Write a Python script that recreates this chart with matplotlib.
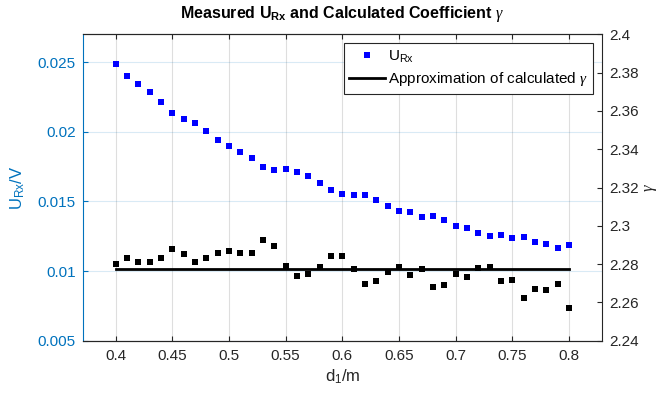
#!/usr/bin/env python

import numpy as np
import matplotlib.pyplot as plt
from matplotlib.ticker import FuncFormatter

plt.rcParams['font.family'] = ['Liberation Sans', 'DejaVu Sans']
plt.rcParams['mathtext.fontset'] = 'custom'
plt.rcParams['mathtext.rm'] = 'Liberation Sans'
plt.rcParams['mathtext.bf'] = 'Liberation Sans:bold'
plt.rcParams['mathtext.it'] = 'Liberation Serif:italic'

# distance d1 in m
d1 = [0.40, 0.41, 0.42, 0.43, 0.44, 0.45, 0.46, 0.47, 0.48, 0.49,
      0.50, 0.51, 0.52, 0.53, 0.54, 0.55, 0.56, 0.57, 0.58, 0.59,
      0.60, 0.61, 0.62, 0.63, 0.64, 0.65, 0.66, 0.67, 0.68, 0.69,
      0.70, 0.71, 0.72, 0.73, 0.74, 0.75, 0.76, 0.77, 0.78, 0.79, 0.80]

# measured U_Rx in V
u_rx = [0.02489, 0.02401, 0.02345, 0.02283, 0.02216, 0.02135, 0.02094, 0.02061,
        0.02006, 0.01943, 0.01896, 0.01855, 0.01814, 0.01747, 0.01728, 0.01733,
        0.01713, 0.01680, 0.01630, 0.01582, 0.01551, 0.01544, 0.01544, 0.01508,
        0.01469, 0.01429, 0.01422, 0.01386, 0.01395, 0.01367, 0.01326, 0.01311,
        0.01271, 0.01250, 0.01257, 0.01235, 0.01242, 0.01209, 0.01196, 0.01168,
        0.01189]

# calculated coefficient gamma
gamma = [2.2802, 2.2832, 2.2813, 2.2813, 2.2832, 2.2877, 2.2853, 2.2813,
         2.2832, 2.2858, 2.2867, 2.2858, 2.2858, 2.2926, 2.2893, 2.2789,
         2.2738, 2.2748, 2.2783, 2.2842, 2.2842, 2.2773, 2.2695, 2.2710,
         2.2759, 2.2786, 2.2743, 2.2773, 2.2679, 2.2689, 2.2748, 2.2733,
         2.2778, 2.2786, 2.2713, 2.2719, 2.2625, 2.2670, 2.2665, 2.2695,
         2.2571]

gamma_approx = 2.2776

blue = (0, 0.447, 0.741)
dark = (0.15, 0.15, 0.15)

fig = plt.figure(figsize=(6.62, 3.94), dpi=100)
ax = fig.add_axes([0.1249, 0.1353, 0.7845, 0.7776])
ax2 = ax.twinx()

h1, = ax.plot(d1, u_rx, 's', color='b', markersize=4, markeredgewidth=0,
              label=r'U$_{\mathrm{Rx}}$')
ax2.plot(d1, gamma, 's', color='k', markersize=4, markeredgewidth=0)
h2, = ax2.plot([d1[0], d1[-1]], [gamma_approx, gamma_approx], '-', color='k',
               linewidth=2, label=r'Approximation of calculated $\gamma$')

ax.set_xlim(0.371, 0.829)
ax.set_ylim(0.005, 0.027)
ax2.set_ylim(2.24, 2.4)

ax.set_xticks(np.arange(0.4, 0.801, 0.05))
ax.set_yticks([0.005, 0.01, 0.015, 0.02, 0.025])
ax2.set_yticks(np.arange(2.24, 2.401, 0.02))
fmt = FuncFormatter(lambda v, p: '%g' % round(v, 4))
ax.xaxis.set_major_formatter(fmt)
ax.yaxis.set_major_formatter(fmt)
ax2.yaxis.set_major_formatter(fmt)

ax.xaxis.grid(True, color=dark, alpha=0.15, linewidth=0.8)
ax.yaxis.grid(True, color=blue, alpha=0.15, linewidth=0.8)
ax.set_axisbelow(True)

ax.tick_params(axis='x', direction='in', top=True, length=3.5, labelsize=11,
               colors=dark, pad=6)
ax.tick_params(axis='y', direction='in', length=3.5, labelsize=11,
               colors=blue, pad=5)
ax2.tick_params(axis='y', direction='in', length=3.5, labelsize=11,
                colors=dark, pad=5)

ax.spines['left'].set_color(blue)
ax2.spines['left'].set_visible(False)
ax.spines['right'].set_visible(False)
ax2.spines['right'].set_color(dark)
for a in (ax, ax2):
    a.spines['top'].set_color(dark)
    a.spines['bottom'].set_color(dark)

ax.set_xlabel(r'd$_1$/m', fontsize=12, color=dark, labelpad=3)
ax.set_ylabel(r'U$_{\mathrm{Rx}}$/V', fontsize=12, color=blue, labelpad=8)
ax2.set_ylabel(r'$\gamma$', fontsize=12, color=dark, rotation=90, labelpad=3)
ax.set_title(r'Measured U$_{\mathbf{Rx}}$ and Calculated Coefficient $\gamma$',
             fontsize=11.5, fontweight='bold', pad=12)

leg = ax2.legend(handles=[h1, h2], loc='upper right', fontsize=11,
                 borderaxespad=0.6, fancybox=False, framealpha=1,
                 edgecolor=dark, handlelength=2.3, handletextpad=0.2,
                 borderpad=0.35, labelspacing=0.35)
leg.get_frame().set_linewidth(0.8)

fig.savefig('out.png', dpi=100)
